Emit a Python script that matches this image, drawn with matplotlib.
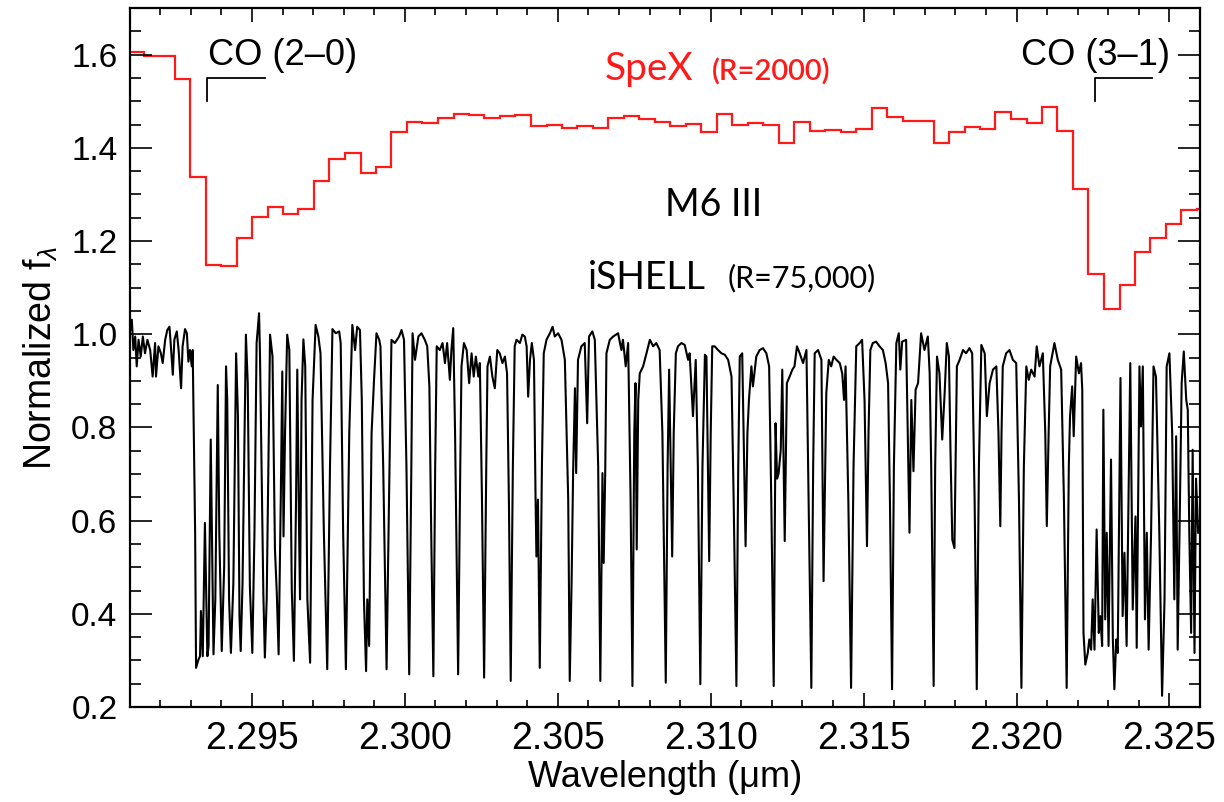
import numpy as np
from matplotlib import pyplot as plt

plt.rcParams['font.family'] = ['Liberation Sans', 'DejaVu Sans']
plt.rcParams['mathtext.fontset'] = 'custom'
plt.rcParams['mathtext.rm'] = 'Liberation Sans'
plt.rcParams['mathtext.it'] = 'Liberation Sans:italic'

# SpeX (R=2000) low-res spectrum: bin edges (um) and flux per bin
spex_edges = [2.29095, 2.29146, 2.29196, 2.29247, 2.29298, 2.29348, 2.29399, 2.29450,
              2.29500, 2.29551, 2.29602, 2.29652, 2.29703, 2.29753, 2.29804, 2.29855,
              2.29905, 2.29956, 2.30007, 2.30057, 2.30108, 2.30159, 2.30209, 2.30260,
              2.30311, 2.30361, 2.30412, 2.30463, 2.30513, 2.30564, 2.30615, 2.30665,
              2.30716, 2.30766, 2.30817, 2.30868, 2.30918, 2.30969, 2.31020, 2.31070,
              2.31121, 2.31172, 2.31222, 2.31273, 2.31324, 2.31374, 2.31425, 2.31476,
              2.31526, 2.31577, 2.31628, 2.31678, 2.31729, 2.31779, 2.31830, 2.31881,
              2.31931, 2.31982, 2.32033, 2.32083, 2.32134, 2.32185, 2.32235, 2.32286,
              2.32337, 2.32387, 2.32438, 2.32489, 2.32539, 2.32590, 2.32641]
spex_flux = [1.606, 1.598, 1.598, 1.548, 1.338, 1.148, 1.146, 1.206, 1.251, 1.273,
             1.259, 1.268, 1.329, 1.376, 1.389, 1.346, 1.358, 1.433, 1.455, 1.453,
             1.465, 1.472, 1.470, 1.463, 1.469, 1.471, 1.446, 1.450, 1.442, 1.446,
             1.442, 1.463, 1.468, 1.461, 1.456, 1.446, 1.452, 1.434, 1.472, 1.449,
             1.454, 1.448, 1.411, 1.455, 1.436, 1.439, 1.434, 1.441, 1.485, 1.466,
             1.457, 1.457, 1.411, 1.434, 1.445, 1.441, 1.476, 1.462, 1.454, 1.488,
             1.437, 1.312, 1.130, 1.055, 1.105, 1.177, 1.206, 1.237, 1.266, 1.269]

# iSHELL (R=75,000) spectrum, digitised vertices (um, normalized flux)
ishell_wave = [
    2.29101, 2.29107, 2.29112, 2.29118, 2.29123, 2.29129, 2.29136, 2.29143, 2.29150, 2.29158,
    2.29167, 2.29175, 2.29183, 2.29186, 2.29194, 2.29202, 2.29208, 2.29216, 2.29223, 2.29230,
    2.29234, 2.29241, 2.29246, 2.29254, 2.29260, 2.29268, 2.29273, 2.29281, 2.29287, 2.29292,
    2.29297, 2.29303, 2.29306, 2.29314, 2.29317, 2.29325, 2.29330, 2.29333, 2.29339, 2.29346,
    2.29354, 2.29358, 2.29365, 2.29374, 2.29380, 2.29388, 2.29393, 2.29401, 2.29409, 2.29415,
    2.29419, 2.29425, 2.29431, 2.29439, 2.29448, 2.29454, 2.29459, 2.29463, 2.29469, 2.29480,
    2.29486, 2.29493, 2.29501, 2.29508, 2.29515, 2.29523, 2.29526, 2.29537, 2.29542, 2.29548,
    2.29559, 2.29567, 2.29575, 2.29581, 2.29587, 2.29594, 2.29599, 2.29603, 2.29608, 2.29615,
    2.29622, 2.29630, 2.29637, 2.29644, 2.29648, 2.29654, 2.29657, 2.29662, 2.29668, 2.29674,
    2.29681, 2.29690, 2.29698, 2.29708, 2.29717, 2.29724, 2.29735, 2.29746, 2.29755, 2.29763,
    2.29774, 2.29785, 2.29790, 2.29798, 2.29807, 2.29818, 2.29828, 2.29837, 2.29844, 2.29853,
    2.29859, 2.29866, 2.29873, 2.29877, 2.29883, 2.29891, 2.29899, 2.29907, 2.29916, 2.29920,
    2.29929, 2.29940, 2.29948, 2.29956, 2.29967,
    2.29981, 2.29989, 2.29997, 2.30005, 2.30014, 2.30021, 2.30025, 2.30033, 2.30044, 2.30054,
    2.30065, 2.30073, 2.30080, 2.30086, 2.30093, 2.30099, 2.30104, 2.30114, 2.30123, 2.30131,
    2.30138, 2.30147, 2.30152, 2.30158, 2.30164, 2.30174, 2.30181, 2.30185, 2.30193, 2.30202,
    2.30210, 2.30218, 2.30225, 2.30232, 2.30240, 2.30245, 2.30252, 2.30259, 2.30266, 2.30270,
    2.30278, 2.30286, 2.30294, 2.30302, 2.30310, 2.30319, 2.30327, 2.30334, 2.30340, 2.30346,
    2.30353, 2.30359, 2.30365, 2.30376, 2.30384, 2.30392, 2.30398, 2.30403, 2.30409, 2.30415,
    2.30422, 2.30427, 2.30430, 2.30435, 2.30441, 2.30448, 2.30454, 2.30463, 2.30474, 2.30483,
    2.30490, 2.30501, 2.30512, 2.30523, 2.30534, 2.30539, 2.30545, 2.30550, 2.30556, 2.30560,
    2.30566, 2.30577, 2.30588, 2.30596, 2.30602, 2.30613, 2.30621, 2.30632, 2.30639, 2.30646,
    2.30650, 2.30655, 2.30659, 2.30670, 2.30681, 2.30697, 2.30708, 2.30713, 2.30722, 2.30730,
    2.30738, 2.30744, 2.30750, 2.30754, 2.30758, 2.30763, 2.30768, 2.30779, 2.30790, 2.30801,
    2.30812, 2.30822,
    2.30833, 2.30842, 2.30853, 2.30859, 2.30864, 2.30869, 2.30874, 2.30879, 2.30886, 2.30893,
    2.30904, 2.30915, 2.30926, 2.30931, 2.30942, 2.30951, 2.30958, 2.30966, 2.30973, 2.30981,
    2.30986, 2.30995, 2.31000, 2.31005, 2.31013, 2.31024, 2.31035, 2.31046, 2.31057, 2.31068,
    2.31075, 2.31084, 2.31090, 2.31095, 2.31103, 2.31114, 2.31120, 2.31125, 2.31133, 2.31138,
    2.31149, 2.31160, 2.31171, 2.31182, 2.31191, 2.31198, 2.31206, 2.31212, 2.31217, 2.31222,
    2.31229, 2.31234, 2.31242, 2.31249, 2.31258, 2.31267, 2.31274, 2.31282, 2.31291, 2.31302,
    2.31313, 2.31320, 2.31329, 2.31335, 2.31340, 2.31351, 2.31362, 2.31369, 2.31378, 2.31386,
    2.31394, 2.31402, 2.31411, 2.31422, 2.31430, 2.31436, 2.31441, 2.31450, 2.31459, 2.31467,
    2.31476, 2.31487, 2.31495, 2.31503, 2.31511, 2.31516, 2.31522, 2.31530, 2.31541, 2.31552,
    2.31563, 2.31572, 2.31580, 2.31586, 2.31593, 2.31599, 2.31607, 2.31615, 2.31620, 2.31626,
    2.31639, 2.31650, 2.31656, 2.31663, 2.31670, 2.31678, 2.31688, 2.31699, 2.31710,
    2.31716, 2.31721, 2.31729, 2.31734, 2.31740, 2.31748, 2.31757, 2.31765, 2.31772, 2.31779,
    2.31784, 2.31790, 2.31797, 2.31805, 2.31814, 2.31825, 2.31835, 2.31846, 2.31855, 2.31863,
    2.31870, 2.31877, 2.31885, 2.31896, 2.31903, 2.31912, 2.31923, 2.31934, 2.31941, 2.31947,
    2.31951, 2.31955, 2.31966, 2.31977, 2.31988, 2.31999, 2.32008, 2.32016, 2.32024, 2.32032,
    2.32040, 2.32048, 2.32059, 2.32066, 2.32075, 2.32086, 2.32094, 2.32099, 2.32105, 2.32110,
    2.32124, 2.32135, 2.32146, 2.32155, 2.32164, 2.32171, 2.32175, 2.32182, 2.32187, 2.32195,
    2.32204, 2.32211, 2.32215, 2.32219, 2.32225, 2.32233, 2.32238, 2.32244, 2.32249, 2.32255,
    2.32262, 2.32269, 2.32274, 2.32280, 2.32284, 2.32290, 2.32295, 2.32301, 2.32309, 2.32315,
    2.32320, 2.32326, 2.32331, 2.32340, 2.32347, 2.32353, 2.32360, 2.32372, 2.32380, 2.32389,
    2.32393, 2.32402, 2.32407, 2.32413, 2.32420, 2.32426, 2.32432, 2.32440, 2.32448, 2.32456,
    2.32467, 2.32476, 2.32484, 2.32491, 2.32500, 2.32509, 2.32516, 2.32522, 2.32527, 2.32533,
    2.32540, 2.32547, 2.32555, 2.32560, 2.32565, 2.32571, 2.32576, 2.32582, 2.32587, 2.32594]
ishell_flux = [
    1.006, 1.031, 0.966, 0.995, 0.931, 0.988, 0.952, 0.995, 0.959, 0.988,
    0.966, 0.909, 0.981, 0.909, 0.974, 0.959, 0.938, 0.988, 1.009, 1.016,
    0.981, 0.913, 0.988, 1.006, 0.966, 0.884, 0.974, 1.011, 1.002, 0.941,
    0.966, 0.931, 0.966, 0.574, 0.284, 0.302, 0.309, 0.406, 0.309, 0.595,
    0.309, 0.331, 0.774, 0.313, 0.431, 0.891, 0.574, 0.320, 0.502, 0.931,
    0.859, 0.431, 0.316, 0.466, 0.959, 0.824, 0.395, 0.320, 0.466, 0.999,
    0.895, 0.459, 0.316, 0.574, 0.981, 1.045, 0.959, 0.445, 0.306, 0.431,
    0.999, 0.952, 0.538, 0.445, 0.313, 0.645, 0.920, 0.566, 0.788, 0.999,
    0.966, 0.452, 0.299, 0.645, 0.924, 0.574, 0.431, 0.859, 0.989, 0.931,
    0.431, 0.295, 0.859, 1.020, 0.995, 0.959, 0.574, 0.281, 0.716, 1.011,
    1.002, 1.006, 0.981, 0.574, 0.281, 0.788, 1.020, 0.966, 1.016, 1.009,
    0.859, 0.431, 0.277, 0.431, 0.331, 0.788, 0.902, 1.002, 0.988, 0.974,
    0.716, 0.281, 0.645, 0.988, 0.981,
    0.995, 1.009, 0.988, 0.716, 0.270, 0.716, 1.002, 0.945, 0.995, 1.002,
    0.988, 0.974, 0.888, 0.574, 0.266, 0.716, 0.974, 0.966, 0.981, 0.938,
    0.981, 0.902, 0.966, 1.013, 0.788, 0.270, 0.716, 0.931, 0.981, 0.966,
    0.895, 0.959, 0.909, 0.952, 0.909, 0.938, 0.645, 0.263, 0.716, 0.931,
    0.952, 0.909, 0.884, 0.966, 0.959, 0.938, 0.952, 0.916, 0.645, 0.256,
    0.716, 0.974, 0.988, 0.981, 0.999, 0.995, 0.974, 0.866, 0.945, 0.981,
    0.945, 0.659, 0.523, 0.645, 0.284, 0.716, 0.959, 0.988, 1.002, 1.016,
    0.995, 1.002, 0.988, 0.945, 0.645, 0.256, 0.466, 0.702, 0.884, 0.702,
    0.945, 0.974, 0.981, 0.809, 0.995, 1.006, 0.988, 0.716, 0.256, 0.702,
    0.509, 0.702, 0.959, 0.988, 0.995, 1.002, 0.966, 0.988, 0.931, 0.981,
    0.645, 0.245, 0.788, 0.895, 0.538, 0.859, 0.916, 0.931, 0.959, 0.988,
    0.974, 0.981,
    0.966, 0.788, 0.252, 0.716, 0.924, 0.716, 0.523, 0.788, 0.959, 0.974,
    0.981, 0.977, 0.945, 0.959, 0.824, 0.945, 0.716, 0.249, 0.716, 0.956,
    0.952, 0.513, 0.788, 0.974, 0.974, 0.966, 0.959, 0.956, 0.945, 0.909,
    0.645, 0.245, 0.716, 0.952, 0.959, 0.545, 0.788, 0.859, 0.931, 0.888,
    0.952, 0.966, 0.970, 0.959, 0.931, 0.645, 0.245, 0.809, 0.690, 0.701,
    0.752, 0.924, 0.556, 0.895, 0.909, 0.924, 0.931, 0.974, 0.959, 0.938,
    0.966, 0.645, 0.241, 0.716, 0.959, 0.966, 0.945, 0.470, 0.874, 0.945,
    0.931, 0.952, 0.945, 0.938, 0.916, 0.859, 0.931, 0.645, 0.241, 0.716,
    0.974, 0.981, 0.988, 0.859, 0.545, 0.788, 0.966, 0.981, 0.984, 0.974,
    0.966, 0.938, 0.895, 0.645, 0.238, 0.716, 0.981, 1.002, 0.924, 0.984,
    0.988, 0.574, 0.859, 0.706, 0.881, 0.895, 1.002, 0.966, 0.995,
    0.916, 0.716, 0.245, 0.716, 0.952, 0.916, 0.774, 0.874, 0.981, 0.952,
    0.752, 0.559, 0.541, 0.931, 0.945, 0.966, 0.959, 0.970, 0.959, 0.645,
    0.238, 0.716, 0.977, 0.959, 0.824, 0.895, 0.924, 0.931, 0.788, 0.588,
    0.788, 0.931, 0.959, 0.966, 0.945, 0.938, 0.645, 0.241, 0.716, 0.931,
    0.902, 0.924, 0.909, 0.974, 0.931, 0.959, 0.788, 0.588, 0.788, 0.931,
    0.981, 0.945, 0.924, 0.645, 0.241, 0.716, 0.824, 0.888, 0.781, 0.952,
    0.916, 0.938, 0.881, 0.359, 0.291, 0.316, 0.345, 0.323, 0.431, 0.323,
    0.581, 0.359, 0.395, 0.331, 0.838, 0.388, 0.574, 0.331, 0.731, 0.345,
    0.238, 0.345, 0.316, 0.906, 0.395, 0.531, 0.331, 0.938, 0.409, 0.609,
    0.327, 0.931, 0.802, 0.931, 0.388, 0.574, 0.323, 0.574, 0.931, 0.909,
    0.574, 0.224, 0.431, 0.931, 0.959, 0.788, 0.431, 0.781, 0.323, 0.574,
    0.895, 0.963, 0.859, 0.838, 0.574, 0.359, 0.752, 0.316, 0.690, 0.574]

# CO band heads: label, label start, bracket start and end wavelength
co_bands = [("CO (2\u20130)", 2.29356, 2.29353, 2.29542),
            ("CO (3\u20131)", 2.32016, 2.32258, 2.32444)]

fig = plt.figure(figsize=(12.24, 8.02), dpi=100)
ax = fig.add_axes([130/1224, 95/802, 1070/1224, 699/802])

ax.stairs(spex_flux, spex_edges, color='#ff1a1a', lw=1.6)
ax.plot(ishell_wave, ishell_flux, color='black', lw=1.5)

ax.set_xlim(2.29101, 2.32598)
ax.set_ylim(0.2, 1.7)
ax.set_xticks([2.295, 2.300, 2.305, 2.310, 2.315, 2.320, 2.325])
ax.set_xticklabels(['2.295', '2.300', '2.305', '2.310', '2.315', '2.320', '2.325'])
ax.set_xticks(np.arange(2.292, 2.3261, 0.001), minor=True)
ax.set_yticks([0.2, 0.4, 0.6, 0.8, 1.0, 1.2, 1.4, 1.6])
ax.set_yticks(np.arange(0.25, 1.70, 0.05), minor=True)
ax.tick_params(axis='both', which='both', direction='in', top=True, right=True, width=1.2)
ax.tick_params(axis='x', which='major', length=10, labelsize=27, pad=10)
ax.tick_params(axis='x', which='minor', length=5)
ax.tick_params(axis='y', which='major', length=16, labelsize=24, pad=9)
ax.tick_params(axis='y', which='minor', length=8)
for s in ax.spines.values():
    s.set_linewidth(1.6)

ax.set_xlabel('Wavelength (\u03bcm)', fontsize=26, labelpad=2)
ax.set_ylabel('Normalized f$_{\\lambda}$', fontsize=27, labelpad=8)

for label, wt, w0, w1 in co_bands:
    ax.plot([w0, w0, w1], [1.50, 1.549, 1.549], color='black', lw=1.3)
    ax.text(wt, 1.598, label, fontsize=26, va='center', ha='left')

ax.text(2.30654, 1.545, 'SpeX', color='#ff1a1a', fontsize=28, family='Lato', va='baseline')
ax.text(2.31003, 1.545, '(R=2000)', color='#ff1a1a', fontsize=21, family='Lato',
        fontweight='semibold', va='baseline')
ax.text(2.30850, 1.277, 'M6 III', color='black', fontsize=27, family='Lato', va='center')
ax.text(2.30598, 1.121, 'iSHELL', color='black', fontsize=27, family='Lato', va='center')
ax.text(2.31056, 1.121, '(R=75,000)', color='black', fontsize=22, family='Lato', va='center')

fig.savefig('out.png', dpi=100)
